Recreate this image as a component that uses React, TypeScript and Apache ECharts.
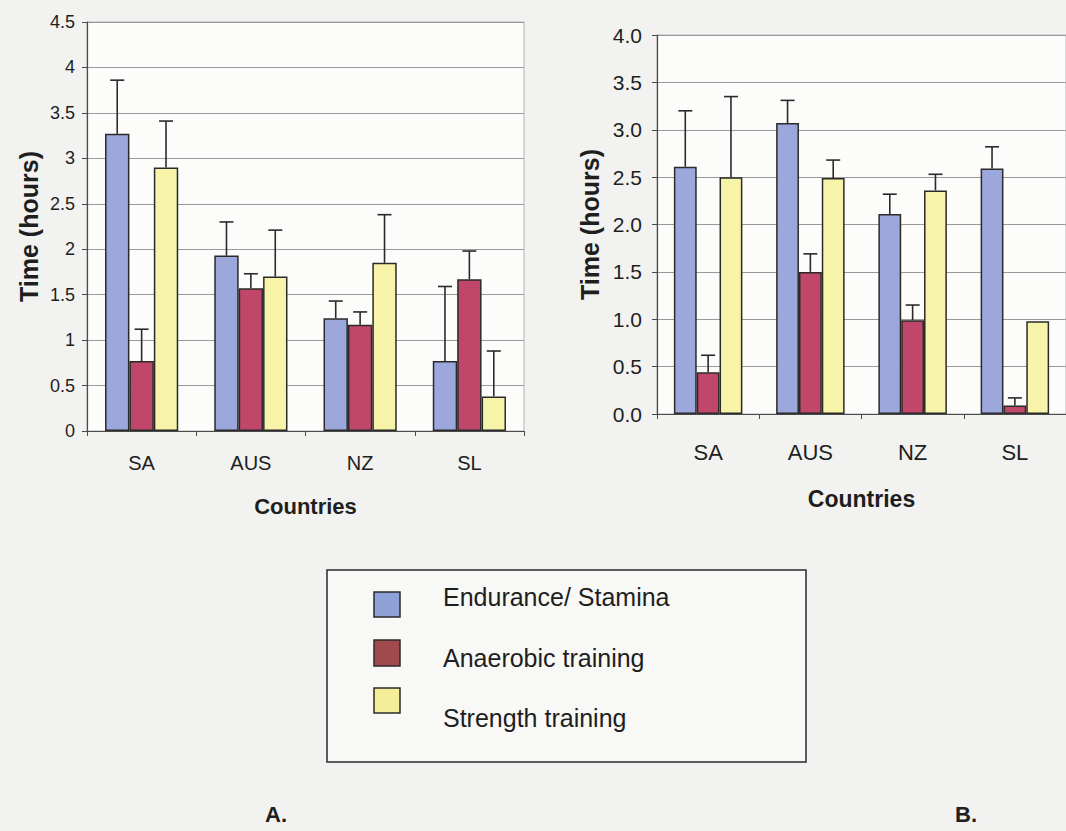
import React, { useEffect, useRef } from "react";
import * as echarts from "echarts";

const FONT = "'Liberation Sans', Arial, Helvetica, sans-serif";

const categories = ["SA", "AUS", "NZ", "SL"];
const seriesNames = ["Endurance/ Stamina", "Anaerobic training", "Strength training"];
const barColors = ["#9ca7dc", "#c0466a", "#f7f4a9"];
const legendColors = ["#8fa2d8", "#a04a4e", "#f3ed98"];

// Chart A
const enduranceA = [3.27, 1.93, 1.24, 0.77];
const anaerobicA = [0.77, 1.57, 1.17, 1.67];
const strengthA = [2.9, 1.7, 1.85, 0.38];
const enduranceErrA = [0.59, 0.37, 0.19, 0.82];
const anaerobicErrA = [0.35, 0.16, 0.14, 0.31];
const strengthErrA = [0.51, 0.51, 0.53, 0.5];

// Chart B
const enduranceB = [2.61, 3.07, 2.11, 2.59];
const anaerobicB = [0.44, 1.5, 0.99, 0.09];
const strengthB = [2.5, 2.49, 2.36, 0.98];
const enduranceErrB = [0.59, 0.24, 0.21, 0.23];
const anaerobicErrB = [0.18, 0.19, 0.16, 0.08];
const strengthErrB = [0.85, 0.19, 0.17, 0];

const yTicksA = { min: 0, max: 4.5, interval: 0.5 };
const yTicksB = { min: 0, max: 4.0, interval: 0.5 };

const BAR_CAT_GAP = 0.33;

function errData(means: number[][], errs: number[][]) {
  const out: number[][] = [];
  means.forEach((m, si) => {
    m.forEach((v, ci) => {
      const e = errs[si][ci];
      if (e > 0) out.push([ci, v + e, v, si]);
    });
  });
  return out;
}

function renderErr(params: any, api: any) {
  const ci = api.value(0);
  const top = api.value(1);
  const val = api.value(2);
  const si = api.value(3);
  const catW = api.size([1, 0])[0];
  const barW = (catW * (1 - BAR_CAT_GAP)) / 3;
  const pTop = api.coord([ci, top]);
  const pVal = api.coord([ci, val]);
  const x = pTop[0] + (si - 1) * barW;
  const style = { stroke: "#2a2a2a", lineWidth: 1.6 };
  return {
    type: "group",
    children: [
      { type: "line", shape: { x1: x, y1: pVal[1], x2: x, y2: pTop[1] }, style },
      { type: "line", shape: { x1: x - 7, y1: pTop[1], x2: x + 7, y2: pTop[1] }, style },
    ],
  };
}

export default function App() {
  const ref = useRef<HTMLDivElement>(null);
  useEffect(() => {
    if (!ref.current) return;
    const chart = echarts.init(ref.current, undefined, { renderer: "svg" });
    const axisColor = "#4a4a4a";
    const textColor = "#1e1e1e";
    const meansA = [enduranceA, anaerobicA, strengthA];
    const meansB = [enduranceB, anaerobicB, strengthB];
    const errsA = [enduranceErrA, anaerobicErrA, strengthErrA];
    const errsB = [enduranceErrB, anaerobicErrB, strengthErrB];

    const mkX = (gi: number, fs: number, margin: number, nameGap: number, nameFs: number) => ({
      type: "category",
      gridIndex: gi,
      data: categories,
      axisLine: { lineStyle: { color: axisColor, width: 1.2 } },
      axisTick: { show: true, length: 5, lineStyle: { color: axisColor } },
      axisLabel: { fontSize: fs, color: textColor, margin, fontFamily: FONT },
      name: "Countries",
      nameLocation: "middle",
      nameGap,
      nameTextStyle: { fontSize: nameFs, fontWeight: "bold", color: textColor, fontFamily: FONT },
    });
    const mkY = (gi: number, t: any, fs: number, margin: number, nameGap: number, fmt?: any) => ({
      type: "value",
      gridIndex: gi,
      min: t.min,
      max: t.max,
      interval: t.interval,
      axisLine: { show: true, lineStyle: { color: axisColor, width: 1.2 } },
      axisTick: { show: true, length: 5, lineStyle: { color: axisColor } },
      splitLine: { show: true, lineStyle: { color: "#9a9a9a", width: 1 } },
      axisLabel: { fontSize: fs, color: textColor, margin, fontFamily: FONT, formatter: fmt },
      name: "Time (hours)",
      nameLocation: "middle",
      nameGap,
      nameTextStyle: { fontSize: 25, fontWeight: "bold", color: textColor, fontFamily: FONT },
    });

    const barSeries: any[] = [];
    [meansA, meansB].forEach((means, gi) => {
      means.forEach((m, si) => {
        barSeries.push({
          type: "bar",
          name: seriesNames[si],
          xAxisIndex: gi,
          yAxisIndex: gi,
          data: m,
          barGap: "0%",
          barCategoryGap: BAR_CAT_GAP * 100 + "%",
          itemStyle: { color: barColors[si], borderColor: "#2a2a2a", borderWidth: 1.5 },
        });
      });
    });
    const errSeries = [
      { type: "custom", xAxisIndex: 0, yAxisIndex: 0, data: errData(meansA, errsA), renderItem: renderErr, encode: { x: 0, y: 1 }, z: 5 },
      { type: "custom", xAxisIndex: 1, yAxisIndex: 1, data: errData(meansB, errsB), renderItem: renderErr, encode: { x: 0, y: 1 }, z: 5 },
    ];

    const legendItems: any[] = [];
    const iconY = [592, 640, 688];
    const iconH = [25, 26, 25];
    const textY = [597, 658, 718];
    seriesNames.forEach((n, i) => {
      legendItems.push({
        type: "rect",
        shape: { x: 374, y: iconY[i], width: 26, height: iconH[i] },
        style: { fill: legendColors[i], stroke: "#2a2a2a", lineWidth: 1.5 },
      });
      legendItems.push({
        type: "text",
        x: 443,
        y: textY[i],
        style: { text: n, fontSize: 25, fill: textColor, fontFamily: FONT, verticalAlign: "middle", align: "left" },
      });
    });

    chart.setOption({
      animation: false,
      backgroundColor: "#f2f2f0",
      textStyle: { fontFamily: FONT },
      grid: [
        { left: 87, top: 22, width: 437, height: 409, show: true, backgroundColor: "#fcfcfb", borderColor: "#b5b5b5", borderWidth: 1 },
        { left: 657, top: 35, width: 415, height: 379, show: true, backgroundColor: "#fcfcfb", borderColor: "#b5b5b5", borderWidth: 1 },
      ],
      xAxis: [mkX(0, 20, 22, 64, 22), mkX(1, 22, 27, 73, 23)],
      yAxis: [
        mkY(0, yTicksA, 18, 12, 46),
        mkY(1, yTicksB, 21, 15, 55, (v: number) => v.toFixed(1)),
      ],
      series: [...barSeries, ...errSeries],
      graphic: [
        {
          type: "rect",
          shape: { x: 327, y: 570, width: 479, height: 192 },
          style: { fill: "#f8f8f6", stroke: "#2a2a2a", lineWidth: 1.5 },
        },
        ...legendItems,
        { type: "text", x: 276, y: 814, style: { text: "A.", fontSize: 22, fontWeight: "bold", fill: textColor, fontFamily: FONT, align: "center", verticalAlign: "middle" } },
        { type: "text", x: 966, y: 814, style: { text: "B.", fontSize: 22, fontWeight: "bold", fill: textColor, fontFamily: FONT, align: "center", verticalAlign: "middle" } },
      ],
    });
    return () => chart.dispose();
  }, []);
  return <div ref={ref} style={{ position: "absolute", left: 0, top: 0, width: 1066, height: 831 }} />;
}
